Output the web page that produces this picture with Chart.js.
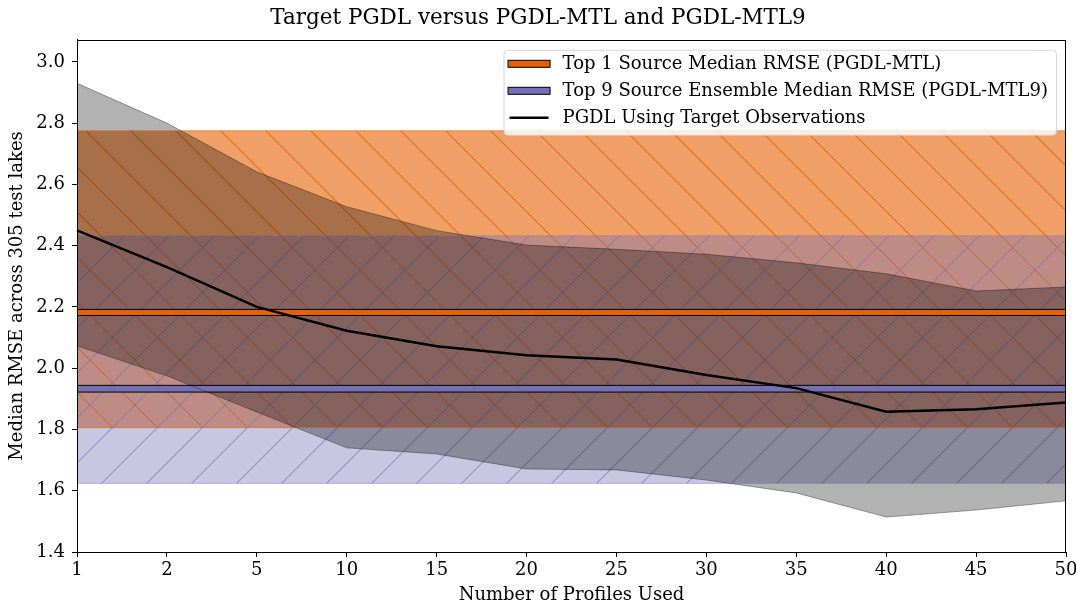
<!DOCTYPE html>
<html>
<head>
<meta charset="utf-8">
<script src="https://cdn.jsdelivr.net/npm/chart.js@4/dist/chart.umd.min.js"></script>
<style>
  html, body { margin: 0; padding: 0; background: #fff; }
  #wrap { width: 1076px; height: 606px; }
</style>
</head>
<body>
<div id="wrap"><canvas id="canvas" width="1076" height="606"></canvas></div>
<script>
// profile counts on the x axis (evenly spaced categories)
const profiles = ['1', '2', '5', '10', '15', '20', '25', '30', '35', '40', '45', '50'];

// PGDL trained on target observations: median and spread across test lakes
const pgdlMedian = [2.450, 2.330, 2.200, 2.122, 2.072, 2.042, 2.028, 1.978, 1.935, 1.858, 1.866, 1.888];
const pgdlUpper  = [2.930, 2.800, 2.641, 2.527, 2.449, 2.402, 2.388, 2.372, 2.344, 2.308, 2.252, 2.265];
const pgdlLower  = [2.073, 1.975, 1.857, 1.740, 1.720, 1.671, 1.668, 1.635, 1.593, 1.514, 1.537, 1.567];

// constant transfer-learning results: [low, median low, median high, high]
const mtlBand  = [1.806, 2.172, 2.192, 2.775];
const mtl9Band = [1.624, 1.922, 1.944, 2.432];

const yTicks = [1.4, 1.6, 1.8, 2.0, 2.2, 2.4, 2.6, 2.8, 3.0];

const ORANGE = '#e66101';
const PURPLE = '#7570b3';
const FONT = '"DejaVu Serif", "Liberation Serif", serif';

const flat = v => profiles.map(() => v);

// semi-transparent fill with 45 degree hatching
function hatch(rgb, alpha, lineAlpha, dir) {
    const s = 45;
    const c = document.createElement('canvas');
    c.width = s; c.height = s;
    const g = c.getContext('2d');
    g.fillStyle = `rgba(${rgb},${alpha})`;
    g.fillRect(0, 0, s, s);
    g.strokeStyle = `rgba(${rgb},${lineAlpha})`;
    g.lineWidth = 1.1;
    g.beginPath();
    for (let k = -1; k <= 1; k++) {
        if (dir === '\\') { g.moveTo(-2, k * s - 2); g.lineTo(s + 2, s + k * s + 2); }
        else { g.moveTo(-2, s + k * s + 2); g.lineTo(s + 2, k * s - 2); }
    }
    g.stroke();
    return g.createPattern(c, 'repeat');
}

const line = (data, color, width, fill, bg) => ({
    data, borderColor: color, borderWidth: width,
    fill: fill === undefined ? false : fill,
    backgroundColor: bg || 'transparent',
    pointRadius: 0, tension: 0
});

const legendItems = [
    { text: 'Top 1 Source Median RMSE (PGDL-MTL)', kind: 'patch', color: ORANGE },
    { text: 'Top 9 Source Ensemble Median RMSE (PGDL-MTL9)', kind: 'patch', color: PURPLE },
    { text: 'PGDL Using Target Observations', kind: 'line', color: '#000' }
];

const framePlugin = {
    id: 'frame',
    afterDatasetsDraw(chart) {
        const { ctx, chartArea: a } = chart;
        ctx.save();
        ctx.strokeStyle = '#000';
        ctx.lineWidth = 1;
        ctx.strokeRect(Math.round(a.left) + 0.5, Math.round(a.top) + 0.5,
            Math.round(a.right - a.left) - 1, Math.round(a.bottom - a.top));
        ctx.restore();
    },
    afterDraw(chart) {
        const { ctx, chartArea: a } = chart;
        ctx.save();
        ctx.font = '18px ' + FONT;
        const tw = Math.max(...legendItems.map(i => ctx.measureText(i.text).width));
        const w = 59 + tw + 8, h = 85;
        const x = a.right - 10 - w, y = a.top + 10;
        ctx.beginPath();
        ctx.roundRect(x + 0.5, y + 0.5, w, h, 4);
        ctx.fillStyle = 'rgba(255,255,255,0.8)';
        ctx.fill();
        ctx.strokeStyle = 'rgba(204,204,204,0.8)';
        ctx.lineWidth = 1;
        ctx.stroke();
        legendItems.forEach((it, i) => {
            const cy = y + 14 + i * 27;
            if (it.kind === 'patch') {
                ctx.fillStyle = it.color;
                ctx.fillRect(x + 4.5, cy - 3.5, 42, 7);
                ctx.strokeStyle = '#000';
                ctx.strokeRect(x + 4.5, cy - 3.5, 42, 7);
            } else {
                ctx.strokeStyle = it.color;
                ctx.lineWidth = 2.5;
                ctx.beginPath();
                ctx.moveTo(x + 6, cy);
                ctx.lineTo(x + 45, cy);
                ctx.stroke();
                ctx.lineWidth = 1;
            }
            ctx.fillStyle = '#000';
            ctx.textBaseline = 'middle';
            ctx.fillText(it.text, x + 59, cy + 1);
        });
        ctx.restore();
    }
};

function createVisualization() {
    const ctx = document.getElementById('canvas').getContext('2d');
    new Chart(ctx, {
        type: 'line',
        data: {
            labels: profiles,
            datasets: [
                line(pgdlMedian, '#000', 2.5),
                line(flat(mtlBand[2]), '#000', 1, { target: 2 }, ORANGE),
                line(flat(mtlBand[1]), '#000', 1),
                line(flat(mtl9Band[2]), '#000', 1, { target: 4 }, PURPLE),
                line(flat(mtl9Band[1]), '#000', 1),
                line(pgdlUpper, 'rgba(0,0,0,0.35)', 1, { target: 6 }, 'rgba(0,0,0,0.3)'),
                line(pgdlLower, 'rgba(0,0,0,0.35)', 1),
                line(flat(mtl9Band[3]), 'rgba(117,112,179,0.4)', 1, { target: 8 }, hatch('117,112,179', 0.4, 0.6, '/')),
                line(flat(mtl9Band[0]), 'rgba(117,112,179,0.4)', 1),
                line(flat(mtlBand[3]), 'rgba(230,97,1,0.6)', 1, { target: 10 }, hatch('230,97,1', 0.6, 0.8, '\\')),
                line(flat(mtlBand[0]), 'rgba(230,97,1,0.6)', 1)
            ]
        },
        options: {
            responsive: false,
            animation: false,
            layout: { padding: { left: 0, right: 0, top: 0, bottom: 0 } },
            scales: {
                x: {
                    offset: false,
                    grid: { drawOnChartArea: false, drawTicks: true, tickLength: 5, tickColor: '#000' },
                    border: { display: true, color: '#000', width: 1 },
                    ticks: { color: '#000', font: { family: FONT, size: 18 }, padding: 3, maxRotation: 0, autoSkip: false },
                    title: { display: true, text: 'Number of Profiles Used', color: '#000',
                             font: { family: FONT, size: 18 }, padding: { top: 0, bottom: 0 } },
                    afterFit: s => { s.height = 54; s.paddingRight = 10; s.paddingLeft = 0; }
                },
                y: {
                    min: 1.4,
                    max: 3.072,
                    afterBuildTicks: s => { s.ticks = yTicks.map(v => ({ value: v })); },
                    grid: { drawOnChartArea: false, drawTicks: true, tickLength: 5, tickColor: '#000' },
                    border: { display: true, color: '#000', width: 1 },
                    ticks: { color: '#000', font: { family: FONT, size: 18 }, padding: 7,
                             callback: v => Number(v).toFixed(1) },
                    title: { display: true, text: 'Median RMSE across 305 test lakes', color: '#000',
                             font: { family: FONT, size: 18 }, padding: { top: 7, bottom: 0 } },
                    afterFit: s => { s.width = 77; }
                }
            },
            plugins: {
                filler: { drawTime: 'beforeDatasetsDraw' },
                legend: { display: false },
                tooltip: { enabled: false },
                title: {
                    display: true,
                    text: 'Target PGDL versus PGDL-MTL and PGDL-MTL9',
                    color: '#000',
                    font: { family: FONT, size: 21.5, weight: 'normal' },
                    padding: { top: 6, bottom: 8 }
                }
            }
        },
        plugins: [framePlugin]
    });
}

createVisualization();
</script>
</body>
</html>
